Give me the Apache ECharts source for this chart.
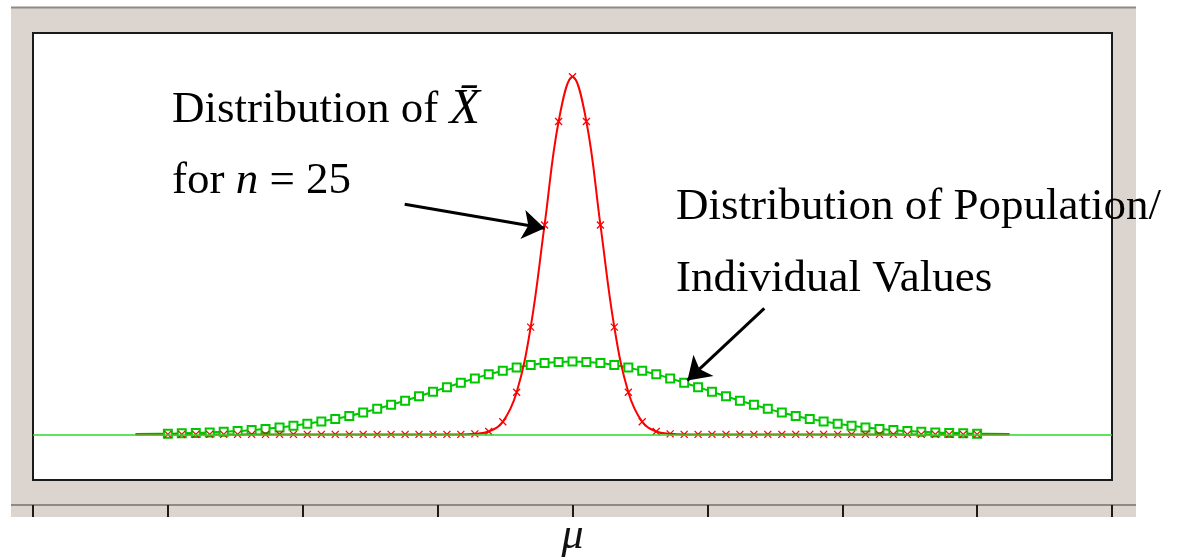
<!DOCTYPE html>
<html>
<head>
<meta charset="utf-8">
<script src="https://cdn.jsdelivr.net/npm/echarts@6/dist/echarts.min.js"></script>
<style>
  html, body { margin: 0; padding: 0; background: #fff; }
  #c { width: 1182px; height: 560px; }
</style>
</head>
<body>
<div id="c"></div>
<script>
// Positions along the axis, in population standard deviations from the mean
const xPoints = [-3.24, -3.000, -2.897, -2.793, -2.690, -2.586, -2.483, -2.379, -2.276, -2.172, -2.069,
  -1.966, -1.862, -1.759, -1.655, -1.552, -1.448, -1.345, -1.241, -1.138, -1.034,
  -0.931, -0.828, -0.724, -0.621, -0.517, -0.414, -0.310, -0.207, -0.103, 0,
  0.103, 0.207, 0.310, 0.414, 0.517, 0.621, 0.724, 0.828, 0.931,
  1.034, 1.138, 1.241, 1.345, 1.448, 1.552, 1.655, 1.759, 1.862, 1.966,
  2.069, 2.172, 2.276, 2.379, 2.483, 2.586, 2.690, 2.793, 2.897, 3.000, 3.24];

// Density of individual values (population)
const population = [0.002, 0.004, 0.006, 0.008, 0.011, 0.014, 0.018, 0.024, 0.030, 0.038, 0.047,
  0.058, 0.071, 0.085, 0.101, 0.120, 0.140, 0.162, 0.185, 0.209, 0.234,
  0.259, 0.283, 0.307, 0.329, 0.349, 0.366, 0.380, 0.391, 0.397, 0.399,
  0.397, 0.391, 0.380, 0.366, 0.349, 0.329, 0.307, 0.283, 0.259,
  0.234, 0.209, 0.185, 0.162, 0.140, 0.120, 0.101, 0.085, 0.071, 0.058,
  0.047, 0.038, 0.030, 0.024, 0.018, 0.014, 0.011, 0.008, 0.006, 0.004, 0.002];

// Density of the sample mean for n = 25
const sampleMean = [0, 0, 0, 0, 0, 0, 0, 0, 0, 0, 0,
  0, 0, 0, 0, 0, 0, 0, 0, 0, 0,
  0, 0, 0.003, 0.016, 0.069, 0.231, 0.588, 1.148, 1.715, 1.96,
  1.715, 1.148, 0.588, 0.231, 0.069, 0.016, 0.003, 0, 0,
  0, 0, 0, 0, 0, 0, 0, 0, 0, 0,
  0, 0, 0, 0, 0, 0, 0, 0, 0, 0, 0];

// Axis tick labels (only the centre is named)
const tickLabels = { '0': 'μ' };

// Annotation arrows: [tail, head] in data coordinates
const arrowMean = [[-1.244, 1.261], [-0.207, 1.13]];
const arrowPopulation = [[1.422, 0.691], [0.852, 0.296]];

const SERIF = '"Liberation Serif", "Times New Roman", serif';
const RED = '#ff0000';
const GREEN = '#00c800';

function toSeriesData(ys) {
  const last = xPoints.length - 1;
  return xPoints.map((x, i) => {
    const item = { value: [x, ys[i]] };
    if (i === 0 || i === last) item.symbol = 'none';
    return item;
  });
}

const chart = echarts.init(document.getElementById('c'), null, { renderer: 'canvas' });

chart.setOption({
  animation: false,
  backgroundColor: '#ffffff',
  grid: {
    left: 33, top: 33, width: 1079, height: 447,
    show: true, backgroundColor: '#ffffff',
    borderColor: '#1a1a1a', borderWidth: 2
  },
  xAxis: {
    type: 'value', min: -4, max: 4, interval: 1,
    position: 'bottom',
    offset: 25,
    axisLine: { show: false, onZero: false },
    axisTick: { show: true, length: 12, lineStyle: { color: '#1a1a1a', width: 2 } },
    splitLine: { show: false },
    axisLabel: {
      formatter: v => tickLabels[String(v)] || '',
      fontFamily: SERIF, fontStyle: 'italic', fontSize: 44, color: '#111',
      margin: 9
    }
  },
  yAxis: { type: 'value', min: -0.25, max: 2.2, show: false },
  series: [
    {
      name: 'Population',
      type: 'line',
      data: toSeriesData(population),
      smooth: 0.4,
      symbol: 'emptyRect',
      symbolSize: 8,
      lineStyle: { color: GREEN, width: 2 },
      itemStyle: { color: GREEN, borderWidth: 1.6 },
      emphasis: { disabled: true },
      markLine: {
        silent: true,
        symbol: ['none', 'none'],
        label: { show: false },
        lineStyle: { color: '#2ad82a', width: 1.5, type: 'solid' },
        data: [{ yAxis: 0 }]
      }
    },
    {
      name: 'Sample mean',
      type: 'line',
      data: toSeriesData(sampleMean),
      smooth: 0.4,
      symbol: 'path://M0,0L10,10M10,0L0,10',
      symbolSize: 7,
      lineStyle: { color: RED, width: 2 },
      itemStyle: { color: RED, borderColor: RED, borderWidth: 1.3 },
      emphasis: { disabled: true },
      markLine: {
        silent: true,
        symbol: ['none', 'arrow'],
        symbolSize: 22,
        label: { show: false },
        lineStyle: { color: '#000', width: 3, type: 'solid' },
        data: [
          [{ coord: arrowMean[0] }, { coord: arrowMean[1] }],
          [{ coord: arrowPopulation[0] }, { coord: arrowPopulation[1] }]
        ]
      }
    }
  ],
  graphic: [
    // panel background
    { type: 'rect', z: -10, shape: { x: 11, y: 7, width: 1125, height: 510 }, style: { fill: '#dcd5cf' } },
    { type: 'line', z: -9, shape: { x1: 11, y1: 7.5, x2: 1136, y2: 7.5 }, style: { stroke: '#8e8984', lineWidth: 2 } },
    { type: 'line', z: -9, shape: { x1: 11, y1: 505, x2: 1136, y2: 505 }, style: { stroke: '#8e8984', lineWidth: 2 } },
    // annotation texts
    {
      type: 'text', z: 50, x: 172, y: 110,
      style: {
        text: 'Distribution of {i|X\u0304}',
        fill: '#000', font: '45px ' + SERIF, verticalAlign: 'middle',
        rich: { i: { fontFamily: SERIF, fontSize: 50, fontStyle: 'italic', fill: '#000' } }
      }
    },
    {
      type: 'text', z: 50, x: 172, y: 181,
      style: {
        text: 'for {i|n} = 25',
        fill: '#000', font: '45px ' + SERIF, verticalAlign: 'middle',
        rich: { i: { fontFamily: SERIF, fontSize: 45, fontStyle: 'italic', fill: '#000' } }
      }
    },
    {
      type: 'text', z: 50, x: 676, y: 207,
      style: { text: 'Distribution of Population/', fill: '#000', font: '45px ' + SERIF, verticalAlign: 'middle' }
    },
    {
      type: 'text', z: 50, x: 676, y: 279,
      style: { text: 'Individual Values', fill: '#000', font: '45px ' + SERIF, verticalAlign: 'middle' }
    }
  ]
});
</script>
</body>
</html>
